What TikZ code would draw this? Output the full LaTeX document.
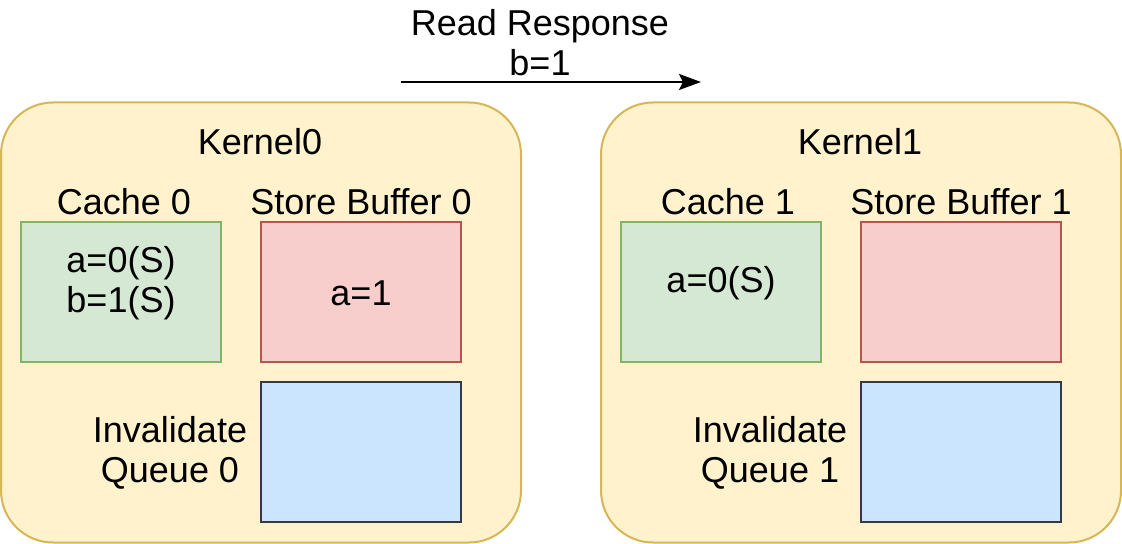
\documentclass[tikz,border=0pt]{standalone}
\usepackage{fontspec}
\setmainfont{Liberation Sans}
\usetikzlibrary{arrows.meta}
\definecolor{kfill}{HTML}{FFF2CC}\definecolor{kdraw}{HTML}{D6B656}
\definecolor{gfill}{HTML}{D5E8D4}\definecolor{gdraw}{HTML}{82B366}
\definecolor{rfill}{HTML}{F8CECC}\definecolor{rdraw}{HTML}{B85450}
\definecolor{bfill}{HTML}{CCE5FF}\definecolor{bdraw}{HTML}{36393D}
\begin{document}
\begin{tikzpicture}[x=0.5pt,y=-0.5pt,
  every node/.style={font=\fontsize{18}{20}\selectfont, inner sep=0pt, align=center},
  kernelbox/.style={draw=kdraw, fill=kfill, line width=1pt, rounded corners=26pt},
  cachebox/.style={draw=gdraw, fill=gfill, line width=1pt, minimum width=100pt, minimum height=70pt},
  storebox/.style={draw=rdraw, fill=rfill, line width=1pt, minimum width=100pt, minimum height=70pt},
  invbox/.style={draw=bdraw, fill=bfill, line width=1pt, minimum width=100pt, minimum height=70pt},
  lbl/.style={text=black}]
\useasboundingbox (0,0) rectangle (1122,544);
% kernels
\node[kernelbox, minimum width=260pt, minimum height=220pt] (k0) at (261,322.5) {};
\node[kernelbox, minimum width=260pt, minimum height=220pt] (k1) at (861,322.5) {};
\node[lbl] (k0l) at (260,142) {Kernel0};
\node[lbl] (k1l) at (860,142) {Kernel1};
% kernel 0 content
\node[lbl] (c0l) at (124,202) {Cache 0};
\node[lbl] (s0l) at (361,202) {Store Buffer 0};
\node[cachebox] (c0) at (121,292) {};
\node[storebox] (s0) at (361,292) {};
\node[invbox] (i0) at (361,452) {};
\node[lbl] (c0t) at (121,283) {a=0(S)\\b=1(S)};
\node[lbl] (s0t) at (361,293) {a=1};
\node[lbl] (i0l) at (170,453) {Invalidate\\Queue 0};
% kernel 1 content
\node[lbl] (c1l) at (728,202) {Cache 1};
\node[lbl] (s1l) at (961,202) {Store Buffer 1};
\node[cachebox] (c1) at (721,292) {};
\node[storebox] (s1) at (961,292) {};
\node[invbox] (i1) at (961,452) {};
\node[lbl] (c1t) at (721,283) {a=0(S)};
\node[lbl] (i1l) at (770,453) {Invalidate\\Queue 1};
% arrow
\coordinate (as) at (401,82);
\coordinate (ae) at (701,82);
\draw[line width=1pt, -{Stealth[length=11pt,width=8pt,inset=2pt]}] (as) -- (ae);
\node[lbl] (al) at (540,43) {Read Response\\b=1};
\end{tikzpicture}
\end{document}
